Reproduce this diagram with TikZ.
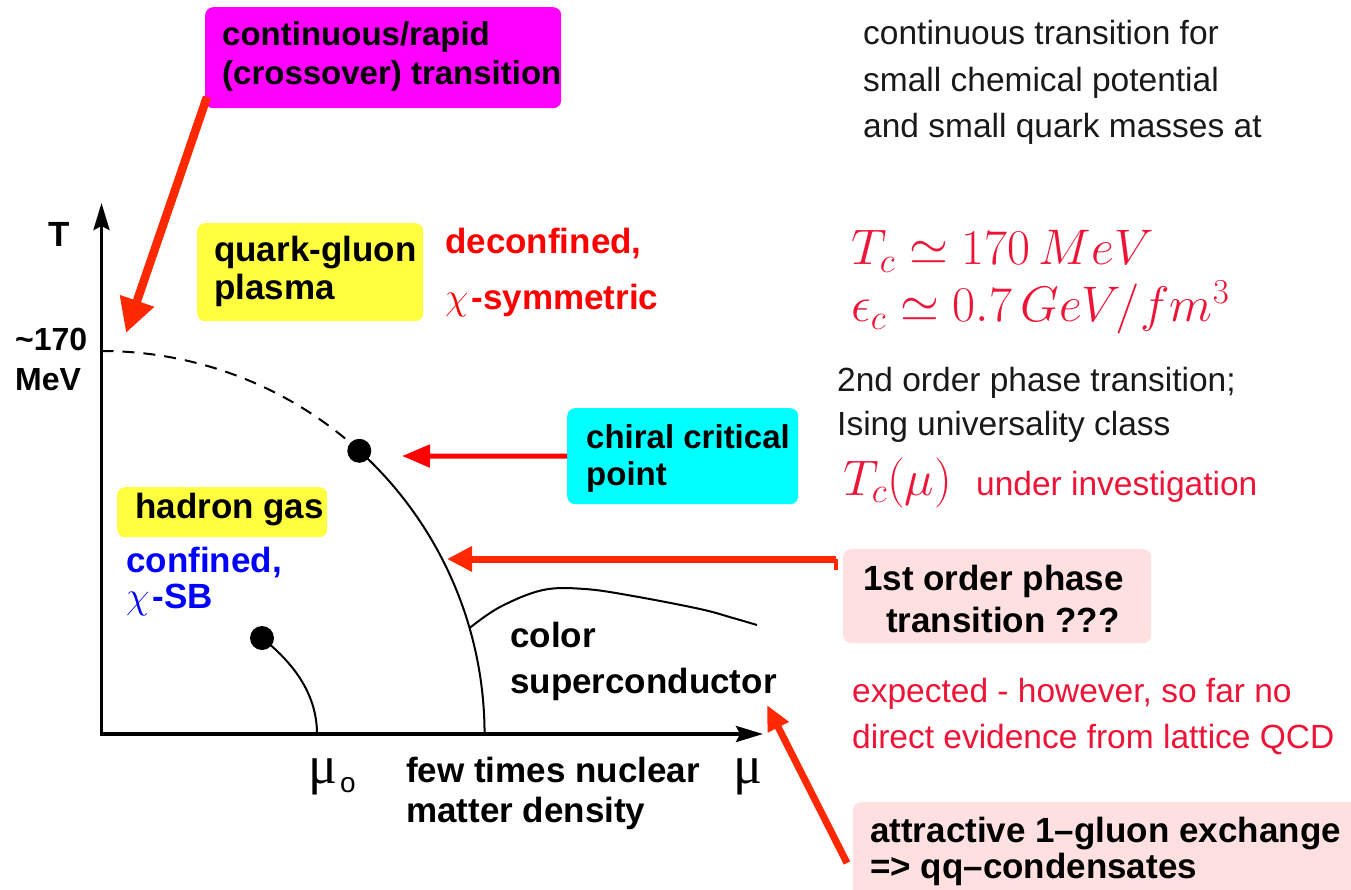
\RequirePackage{fix-cm}
\documentclass[tikz,border=0pt]{standalone}
\usepackage[no-math]{fontspec}
\newfontfamily\hv{Liberation Sans}
\newfontfamily\tms{Liberation Serif}
\usetikzlibrary{arrows.meta}
\definecolor{mag}{RGB}{255,0,255}
\definecolor{ylw}{RGB}{255,255,64}
\definecolor{cyn}{RGB}{0,255,255}
\definecolor{pnk}{RGB}{255,224,224}
\definecolor{arr}{RGB}{255,40,0}
\definecolor{crim}{RGB}{238,20,55}
\definecolor{blu}{RGB}{0,0,255}
\definecolor{txt}{RGB}{25,25,25}
\newcommand{\chisym}{{\fontsize{38}{38}\selectfont$\chi$}\kern3pt}
\begin{document}
\begin{tikzpicture}[x=1pt,y=-1pt,
  box/.style={rounded corners=8pt, inner sep=0pt, anchor=north west},
  bl/.style={font=\hv\bfseries\fontsize{35}{40}\selectfont, inner sep=0pt, anchor=base west},
  bls/.style={font=\hv\bfseries\fontsize{33}{40}\selectfont, inner sep=0pt, anchor=base west},
  rg/.style={font=\hv\fontsize{33.5}{40}\selectfont, inner sep=0pt, anchor=base west, text=txt},
  rr/.style={font=\hv\fontsize{33.5}{40}\selectfont, inner sep=0pt, anchor=base west, text=crim},
  mth/.style={font=\fontsize{50}{60}\selectfont, inner sep=0pt, anchor=base west, text=crim},
  gr/.style={font=\tms\fontsize{54}{56}\selectfont, inner sep=0pt, anchor=base west},
  dot/.style={circle, fill=black, minimum size=24pt, inner sep=0pt},
  axis/.style={line width=3.5pt, {Stealth[length=27pt,width=16pt,inset=4pt]}-{Stealth[length=27pt,width=16pt,inset=4pt]}},
  curve/.style={line width=2pt},
  rarr/.style={draw=arr, line width=7pt, -{Triangle[length=25pt,width=24pt]}},
]
\useasboundingbox (0,0) rectangle (1351,890);

% ---------- boxes ----------
\node[box, fill=mag, minimum width=356pt, minimum height=101pt] (crbox) at (205,7) {};
\node[box, fill=ylw, minimum width=226pt, minimum height=98pt] (qgpbox) at (197,223) {};
\node[box, fill=ylw, minimum width=210pt, minimum height=50pt] (hgbox) at (117,487) {};
\node[box, fill=cyn, minimum width=231pt, minimum height=96pt] (ccbox) at (567,408) {};
\node[box, fill=pnk, minimum width=308pt, minimum height=94pt] (fobox) at (843,549) {};
\node[box, fill=pnk, minimum width=530pt, minimum height=120pt] (agbox) at (853,802) {};

% ---------- box texts ----------
\node[bls] (cr1) at (222,46) {continuous/rapid};
\node[bls] (cr2) at (222,85) {(crossover) transition};
\node[bl] (qg1) at (214,262) {quark-gluon};
\node[bl] (qg2) at (214,300) {plasma};
\node[bl] (hg) at (135,518) {hadron gas};
\node[bls] (cc1) at (586,448) {chiral critical};
\node[bls] (cc2) at (586,485) {point};
\node[bl] (fo1) at (863,590) {1st order phase};
\node[bl] (fo2) at (886,632) {transition ???};
\node[bl] (ag1) at (870,842) {attractive 1–gluon exchange};
\node[bl] (ag2) at (870,878) {=> qq–condensates};

% ---------- phase labels ----------
\node[bl, text=red] (dc1) at (445,254) {deconfined,};
\node[bl, text=red] (dc2) at (445,309) {\chisym-symmetric};
\node[bl, text=blu] (cf1) at (126,572) {confined,};
\node[bl, text=blu] (cf2) at (126,608) {\chisym-SB};
\node[bl] (cs1) at (510,647) {color};
\node[bl] (cs2) at (510,693) {superconductor};
\node[bl] (fn1) at (406,782) {few times nuclear};
\node[bl] (fn2) at (406,822) {matter density};

% ---------- axes ----------
\coordinate (org) at (101.5,734);
\coordinate (Ttip) at (101.5,203);
\coordinate (mutip) at (763,734);
\draw[axis] (Ttip) -- (org) -- (mutip);
\node[bl] (Tlab) at (48,247) {T};
\node[bl, font=\hv\bfseries\fontsize{32}{36}\selectfont] (t170) at (15,350) {\textasciitilde170};
\node[bl, font=\hv\bfseries\fontsize{32}{36}\selectfont] (tmev) at (15,390) {MeV};
\node[gr] (mu0) at (308,783) {μ};
\node[font=\hv\fontsize{28}{30}\selectfont, inner sep=0pt, anchor=base west] (mu0s) at (340,792) {o};
\node[gr] (mu) at (733,783) {μ};

% ---------- phase lines ----------
\node[dot] (cp) at (359.3,450.8) {};
\node[dot] (ep) at (262,638) {};
\draw[curve, dash pattern=on 12pt off 9pt] (101.5,351) arc[start angle=-90, end angle=-47.7, radius=383];
\draw[curve] (cp.center) arc[start angle=-47.7, end angle=0, radius=383] coordinate (fobot);
\coordinate (epbot) at (317,734);
\draw[curve] (ep.center) .. controls (300,668) and (317,700) .. (epbot);
\draw[curve] plot[smooth, tension=0.6] coordinates {(469.6,628) (500,607) (543,590) (585,589) (633,596) (700,609) (733,618) (757,625)};

% ---------- right texts ----------
\node[rg] (r1) at (863,45) {continuous transition for};
\node[rg] (r2) at (863,92) {small chemical potential};
\node[rg] (r3) at (863,138) {and small quark masses at};
\node[mth] (m1) at (851,265) {$T_c \simeq 170\,MeV$};
\node[mth] (m2) at (851,322) {$\epsilon_c \simeq 0.7\,GeV/fm^3$};
\node[rg] (s1) at (837,391) {2nd order phase transition;};
\node[rg] (s2) at (837,435) {Ising universality class};
\node[mth] (m3) at (843,495) {$T_c(\mu)$};
\node[rr] (ui) at (976,495) {under investigation};
\node[rr] (ex1) at (852,702) {expected - however, so far no};
\node[rr] (ex2) at (852,748) {direct evidence from lattice QCD};

% ---------- red arrows ----------
\coordinate (a1s) at (207,97);
\coordinate (a1e) at (126,333);
\draw[rarr, line width=8.5pt, -{Triangle[length=34pt,width=34pt]}] (a1s) -- (a1e);
\coordinate (cctip) at (402,456);
\draw[draw=red, line width=5pt, -{Triangle[length=28pt,width=22pt]}] (ccbox.west) -- (cctip);
\coordinate (a3k) at (836,570);
\coordinate (a3s) at (836,559);
\coordinate (a3e) at (447,559);
\draw[draw=arr, line width=4pt] (a3k) -- (a3s);
\draw[rarr] (a3s) -- (a3e);
\coordinate (a4s) at (847,863);
\coordinate (a4e) at (767,705);
\draw[rarr, -{Triangle[length=25pt,width=22pt]}] (a4s) -- (a4e);
\end{tikzpicture}
\end{document}
